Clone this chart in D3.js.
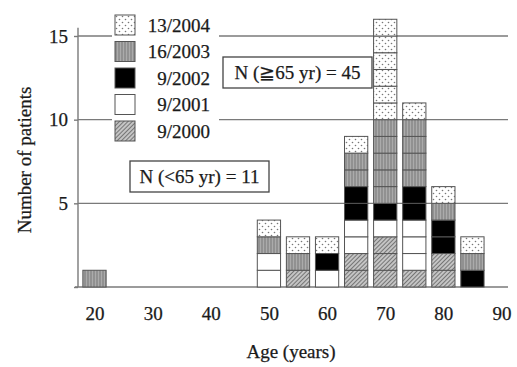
<!DOCTYPE html>
<html>
<head>
<meta charset="utf-8">
<script src="https://cdn.jsdelivr.net/npm/d3@7"></script>
<style>
  body { margin: 0; background: #fff; }
  svg { display: block; font-family: "Liberation Serif", "Times New Roman", serif; }
  text { stroke: #1a1a1a; stroke-width: 0.25px; }
</style>
</head>
<body>
<svg id="chart" width="517" height="367"></svg>
<script>
const ages = [20, 50, 55, 60, 65, 70, 75, 80, 85];
const s2000 = [0, 0, 1, 0, 2, 3, 1, 2, 0];
const s2001 = [0, 2, 0, 1, 2, 1, 3, 0, 0];
const s2002 = [0, 0, 0, 1, 2, 1, 2, 2, 1];
const s2003 = [1, 1, 1, 0, 2, 5, 4, 1, 1];
const s2004 = [0, 1, 1, 1, 1, 6, 1, 1, 1];
const seriesNames = ["9/2000", "9/2001", "9/2002", "16/2003", "13/2004"];
const xTicks = [20, 30, 40, 50, 60, 70, 80, 90];
const yTicks = [0, 5, 10, 15];

const rows = ages.map((a, i) => ({
  age: a,
  "9/2000": s2000[i], "9/2001": s2001[i], "9/2002": s2002[i],
  "16/2003": s2003[i], "13/2004": s2004[i]
}));

const svg = d3.select("#chart");
const x = d3.scaleLinear().domain([20, 90]).range([94.5, 501.5]);
const y = d3.scaleLinear().domain([0, 15]).range([287, 36]);
const axisLeft = 78, axisRight = 508;

// patterns
const defs = svg.append("defs");
const dots = defs.append("pattern").attr("id", "p-dots")
  .attr("patternUnits", "userSpaceOnUse").attr("width", 6).attr("height", 6);
dots.append("rect").attr("width", 6).attr("height", 6).attr("fill", "#fff");
dots.append("circle").attr("cx", 1.5).attr("cy", 1.5).attr("r", 0.8).attr("fill", "#777");
dots.append("circle").attr("cx", 4.5).attr("cy", 4.5).attr("r", 0.8).attr("fill", "#777");

const stripes = defs.append("pattern").attr("id", "p-stripes")
  .attr("patternUnits", "userSpaceOnUse").attr("width", 3).attr("height", 3);
stripes.append("rect").attr("width", 3).attr("height", 3).attr("fill", "#ababab");
stripes.append("line").attr("x1", 1).attr("x2", 1).attr("y1", 0).attr("y2", 3)
  .attr("stroke", "#777").attr("stroke-width", 1);

const hatch = defs.append("pattern").attr("id", "p-hatch")
  .attr("patternUnits", "userSpaceOnUse").attr("width", 3).attr("height", 3)
  .attr("patternTransform", "rotate(45)");
hatch.append("rect").attr("width", 3).attr("height", 3).attr("fill", "#c4c4c4");
hatch.append("line").attr("x1", 0).attr("x2", 0).attr("y1", 0).attr("y2", 3)
  .attr("stroke", "#4a4a4a").attr("stroke-width", 1.3);

const fills = {
  "9/2000": "url(#p-hatch)",
  "9/2001": "#fff",
  "9/2002": "#000",
  "16/2003": "url(#p-stripes)",
  "13/2004": "url(#p-dots)"
};

// gridlines
svg.append("g").selectAll("line")
  .data(yTicks.filter(d => d > 0))
  .enter().append("line")
  .attr("x1", axisLeft).attr("x2", axisRight)
  .attr("y1", d => y(d)).attr("y2", d => y(d))
  .attr("stroke", "#7a7a7a").attr("stroke-width", 1.4);

// y axis
const yAxis = svg.append("g").attr("transform", `translate(${axisLeft},0)`)
  .call(d3.axisLeft(y).tickValues(yTicks).tickSize(4).tickSizeOuter(0)
    .tickFormat(d => d === 0 ? "" : d));
yAxis.select(".domain").attr("d", `M0,${y(0)}V${y(15.5)}`)
  .attr("stroke", "#7a7a7a").attr("stroke-width", 1.4);
yAxis.selectAll(".tick line").attr("stroke", "#7a7a7a").attr("stroke-width", 1.4);
yAxis.selectAll(".tick text").attr("font-size", 19).attr("fill", "#1a1a1a")
  .attr("font-family", "Liberation Serif").attr("x", -10);

// x axis
const xAxis = svg.append("g").attr("transform", `translate(0,${y(0)})`)
  .call(d3.axisBottom(x).tickValues(xTicks).tickSize(0).tickPadding(20));
xAxis.select(".domain").attr("d", `M${axisLeft - 3},0H${axisRight}`)
  .attr("stroke", "#7a7a7a").attr("stroke-width", 1.4);
xAxis.selectAll(".tick text").attr("font-size", 19).attr("fill", "#1a1a1a")
  .attr("font-family", "Liberation Serif");

// legend background masks gridlines
svg.append("rect").attr("x", 112).attr("y", 8).attr("width", 107).attr("height", 136)
  .attr("fill", "#fff");

const legendOrder = seriesNames.slice().reverse();
const legend = svg.append("g").selectAll("g")
  .data(legendOrder).enter().append("g")
  .attr("transform", (d, i) => `translate(115,${15 + i * 26.5})`);
legend.append("rect").attr("width", 20).attr("height", 20)
  .attr("fill", d => fills[d]).attr("stroke", "#555").attr("stroke-width", 1);
legend.append("text").attr("x", 95).attr("y", 10).attr("dy", "0.35em")
  .attr("text-anchor", "end").attr("font-size", 19).attr("fill", "#1a1a1a")
  .text(d => d);

// annotation boxes
const notes = [
  { text: "N (≧65 yr) = 45", x: 223, y: 57, w: 149, h: 31 },
  { text: "N (<65 yr) = 11", x: 130, y: 161, w: 139, h: 31 }
];
const note = svg.append("g").selectAll("g").data(notes).enter().append("g");
note.append("rect").attr("x", d => d.x).attr("y", d => d.y)
  .attr("width", d => d.w).attr("height", d => d.h)
  .attr("fill", "#fff").attr("stroke", "#444").attr("stroke-width", 1.3);
note.append("text").attr("x", d => d.x + d.w / 2).attr("y", d => d.y + d.h / 2)
  .attr("dy", "0.35em").attr("text-anchor", "middle")
  .attr("font-size", 19).attr("fill", "#1a1a1a").text(d => d.text);

// bars: stacked, one cell per patient
const stack = d3.stack().keys(seriesNames)(rows);
const cells = [];
stack.forEach(layer => {
  layer.forEach(seg => {
    d3.range(seg[0], seg[1]).forEach(k => {
      cells.push({ key: layer.key, age: seg.data.age, y0: k, y1: k + 1 });
    });
  });
});
svg.append("g").selectAll("rect")
  .data(cells).enter().append("rect")
  .attr("x", d => x(d.age - 2))
  .attr("width", d => x(d.age + 2) - x(d.age - 2))
  .attr("y", d => y(d.y1))
  .attr("height", d => y(d.y0) - y(d.y1))
  .attr("fill", d => fills[d.key])
  .attr("stroke", "#555").attr("stroke-width", 1);

// axis titles
svg.append("text").attr("x", 291).attr("y", 358).attr("text-anchor", "middle")
  .attr("font-size", 19).attr("fill", "#1a1a1a").text("Age (years)");
svg.append("text").attr("transform", "translate(31,160) rotate(-90)")
  .attr("text-anchor", "middle").attr("font-size", 19).attr("fill", "#1a1a1a")
  .text("Number of patients");
</script>
</body>
</html>
